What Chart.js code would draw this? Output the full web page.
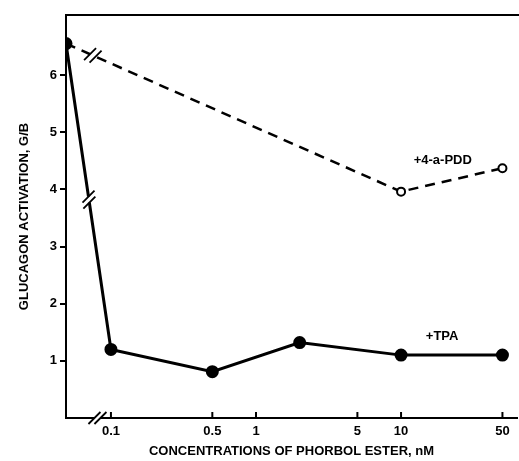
<!DOCTYPE html>
<html><head><meta charset="utf-8">
<script src="https://cdn.jsdelivr.net/npm/chart.js@4.4.0/dist/chart.umd.min.js"></script>
<style>html,body{margin:0;padding:0;background:#fff}</style>
</head><body>
<canvas id="c" width="519" height="461"></canvas>
<script>
// first x value is the control (no ester), drawn at the axis break
let conc = [0.049, 0.1, 0.5, 2, 10, 50]
let tpa = [6.55, 1.2, 0.81, 1.32, 1.1, 1.1]
let pddConc = [0.049, 10, 50]
let pdd = [6.55, 3.96, 4.37]
let xTicks = [0.1, 0.5, 1, 5, 10, 50]
let yTicks = [1, 2, 3, 4, 5, 6]
let seriesNames = ["+4-a-PDD", "+TPA"]
let nameX = [19.4, 19.2]
let nameY = [4.5, 1.42]

const FONT = "'Liberation Sans', Arial, sans-serif"

function breakMark(ctx, x, y, ang, gap){
  // white gap across the line + two slanted strokes
  let dx = Math.cos(ang), dy = Math.sin(ang)
  ctx.save()
  ctx.strokeStyle = "#fff"; ctx.lineWidth = 6
  ctx.beginPath(); ctx.moveTo(x - dx*gap, y - dy*gap); ctx.lineTo(x + dx*gap, y + dy*gap); ctx.stroke()
  ctx.strokeStyle = "#000"; ctx.lineWidth = 1.8
  for (let s of [-1, 1]){
    let cx = x + s*dx*gap, cy = y + s*dy*gap
    ctx.beginPath(); ctx.moveTo(cx - 6, cy + 6); ctx.lineTo(cx + 6, cy - 6); ctx.stroke()
  }
  ctx.restore()
}

const extras = {
  id: "extras",
  afterDraw(chart){
    let ctx = chart.ctx, a = chart.chartArea
    let xs = chart.scales.x, ys = chart.scales.y
    ctx.save()
    // top frame line
    ctx.strokeStyle = "#000"; ctx.lineWidth = 2
    ctx.beginPath(); ctx.moveTo(a.left - 1, a.top); ctx.lineTo(519, a.top); ctx.stroke()
    // x ticks pointing inward
    for (let v of xTicks){
      let px = xs.getPixelForValue(v)
      ctx.beginPath(); ctx.moveTo(px, a.bottom); ctx.lineTo(px, a.bottom - 6); ctx.stroke()
    }
    // breaks
    let x0 = xs.getPixelForValue(conc[0]), y0 = ys.getPixelForValue(tpa[0])
    let x1 = xs.getPixelForValue(conc[1]), y1 = ys.getPixelForValue(tpa[1])
    let t = 0.51
    breakMark(ctx, x0 + (x1-x0)*t, y0 + (y1-y0)*t, Math.atan2(y1-y0, x1-x0), 3)
    let x2 = xs.getPixelForValue(pddConc[1]), y2 = ys.getPixelForValue(pdd[1])
    t = 0.08
    breakMark(ctx, x0 + (x2-x0)*t, y0 + (y2-y0)*t, Math.atan2(y2-y0, x2-x0), 3)
    breakMark(ctx, x0 + (x1-x0)*0.7, a.bottom, 0, 3)
    // series names
    ctx.fillStyle = "#000"; ctx.font = "bold 13px " + FONT
    ctx.textAlign = "center"; ctx.textBaseline = "middle"
    for (let i = 0; i < seriesNames.length; i++){
      ctx.fillText(seriesNames[i], xs.getPixelForValue(nameX[i]), ys.getPixelForValue(nameY[i]))
    }
    ctx.restore()
  }
}

new Chart(document.getElementById("c"), {
  type: "line",
  data: {
    datasets: [
      {
        label: "+4-a-PDD",
        data: pddConc.map((x, i) => ({x: x, y: pdd[i]})),
        borderColor: "#000", borderWidth: 2.5, borderDash: [10, 7],
        pointRadius: [0, 4, 4], pointBackgroundColor: "#fff",
        pointBorderColor: "#000", pointBorderWidth: 2
      },
      {
        label: "+TPA",
        data: conc.map((x, i) => ({x: x, y: tpa[i]})),
        borderColor: "#000", borderWidth: 3,
        pointRadius: 5, pointBackgroundColor: "#000", pointBorderColor: "#000"
      }
    ]
  },
  options: {
    responsive: false, animation: false,
    layout: {autoPadding: false, padding: {top: 15, right: 2, left: 0, bottom: 0}},
    plugins: {legend: {display: false}, tooltip: {enabled: false}},
    scales: {
      x: {
        type: "logarithmic", min: 0.049, max: 63,
        afterBuildTicks: s => { s.ticks = xTicks.map(v => ({value: v})) },
        afterFit: s => { s.height = 43; s.paddingRight = 0; s.paddingLeft = 0 },
        grid: {display: false, drawTicks: false},
        border: {display: true, color: "#000", width: 2},
        ticks: {
          autoSkip: false, maxRotation: 0, padding: 6, color: "#000",
          font: {family: FONT, weight: "bold", size: 13},
          callback: v => String(v)
        },
        title: {display: true, text: "CONCENTRATIONS OF PHORBOL ESTER, nM", color: "#000",
          font: {family: FONT, weight: "bold", size: 13}, padding: {top: 2, bottom: 2}}
      },
      y: {
        min: 0, max: 7.05,
        afterBuildTicks: s => { s.ticks = yTicks.map(v => ({value: v})) },
        afterFit: s => { s.width = 66; s.paddingTop = 0; s.paddingBottom = 0 },
        grid: {drawOnChartArea: false, drawTicks: true, tickLength: 6, color: "#000", lineWidth: 2},
        border: {display: true, color: "#000", width: 2},
        ticks: {padding: 3, color: "#000", font: {family: FONT, weight: "bold", size: 13}},
        title: {display: true, text: "GLUCAGON ACTIVATION, G/B", color: "#000",
          font: {family: FONT, weight: "bold", size: 13}, padding: {top: 17, bottom: 4}}
      }
    }
  },
  plugins: [extras]
})
</script>
</body></html>
